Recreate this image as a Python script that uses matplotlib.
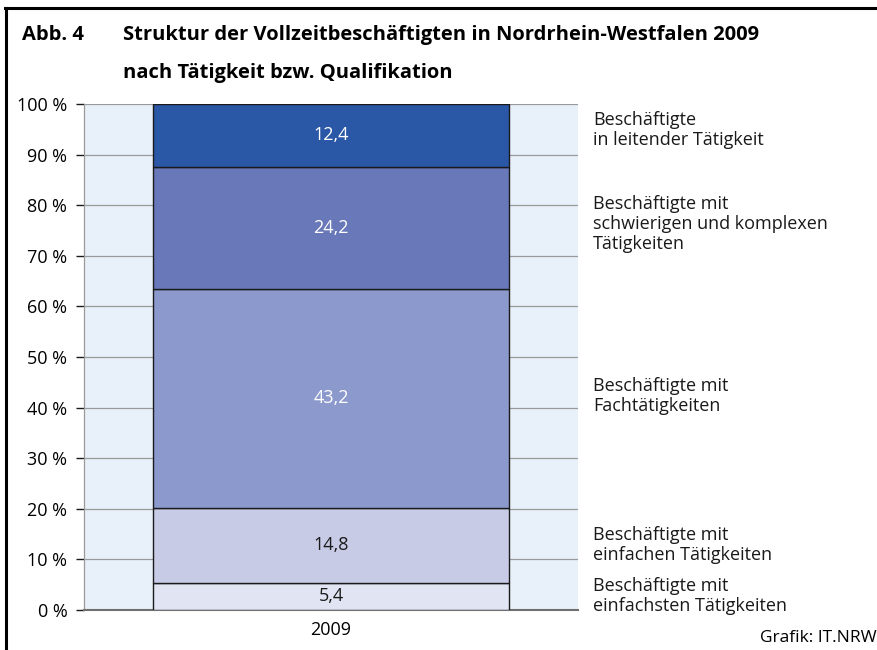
import matplotlib
matplotlib.use('Agg')
import matplotlib.pyplot as plt
from matplotlib.lines import Line2D

plt.rcParams['font.family'] = ['Open Sans', 'DejaVu Sans']

# Daten (Anteile in %)
year = '2009'
shares = [5.4, 14.8, 43.2, 24.2, 12.4]
share_labels = ['5,4', '14,8', '43,2', '24,2', '12,4']
categories = [
    'Beschäftigte mit\neinfachsten Tätigkeiten',
    'Beschäftigte mit\neinfachen Tätigkeiten',
    'Beschäftigte mit\nFachtätigkeiten',
    'Beschäftigte mit\nschwierigen und komplexen\nTätigkeiten',
    'Beschäftigte\nin leitender Tätigkeit',
]
colors = ['#e1e4f2', '#c8cbe6', '#8c99cc', '#6878b8', '#2b58a6']
text_colors = ['#1a1a1a', '#1a1a1a', 'white', 'white', 'white']
yticks = list(range(0, 101, 10))
ytick_labels = [f'{v} %' for v in yticks]

fs = 13

fig = plt.figure(figsize=(8.78, 6.5), dpi=100)
ax = fig.add_axes([84 / 878, 1 - 610 / 650, 494 / 878, 506 / 650])
ax.set_facecolor('#e8f0fa')

# Rahmen
fig.add_artist(Line2D([6 / 878, 6 / 878], [0, 1 - 8 / 650], color='black', lw=2.2,
                      transform=fig.transFigure))
fig.add_artist(Line2D([5 / 878, 1], [1 - 8 / 650, 1 - 8 / 650], color='black', lw=2.2,
                      transform=fig.transFigure))

for v in yticks[1:]:
    ax.axhline(v, color='#9a9a9a', lw=0.9, zorder=1)

bottom = 0
for val, lab, col, tcol in zip(shares, share_labels, colors, text_colors):
    ax.bar(0, val, bottom=bottom, width=0.72, color=col, edgecolor='#1a1a1a',
           linewidth=1.0, zorder=3)
    ax.text(0, bottom + val / 2, lab, ha='center', va='center', fontsize=fs,
            color=tcol, zorder=4)
    bottom += val

ax.set_xlim(-0.5, 0.5)
ax.set_ylim(0, 100)
ax.set_yticks(yticks)
ax.set_yticklabels(ytick_labels, fontsize=fs)
ax.set_xticks([0])
ax.set_xticklabels([year], fontsize=fs)
ax.tick_params(axis='x', length=0, pad=8)
ax.tick_params(axis='y', length=6, width=1, color='#1a1a1a', pad=6)
for s in ['top', 'right']:
    ax.spines[s].set_visible(False)
ax.spines['left'].set_color('#9a9a9a')
ax.spines['left'].set_linewidth(0.9)
ax.spines['bottom'].set_color('#707070')
ax.spines['bottom'].set_linewidth(1.5)

# Beschriftungen rechts (Lage der Textmitte in %)
label_y = [2.7, 12.8, 42.3, 76.3, 94.9]
for y, txt in zip(label_y, categories):
    ax.text(1.03, y / 100, txt, transform=ax.transAxes, ha='left', va='center',
            fontsize=fs, linespacing=1.15, color='#1a1a1a')

fig.text(22 / 878, 1 - 35 / 650, 'Abb. 4', fontsize=14.5, fontweight='bold', va='center')
fig.text(123 / 878, 1 - 35 / 650, 'Struktur der Vollzeitbeschäftigten in Nordrhein-Westfalen 2009',
         fontsize=14.5, fontweight='bold', va='center')
fig.text(123 / 878, 1 - 73 / 650, 'nach Tätigkeit bzw. Qualifikation',
         fontsize=14.5, fontweight='bold', va='center')
fig.text(760 / 878, 1 - 638 / 650, 'Grafik: IT.NRW', fontsize=12.5, va='center')

fig.savefig('out.png', dpi=100)
